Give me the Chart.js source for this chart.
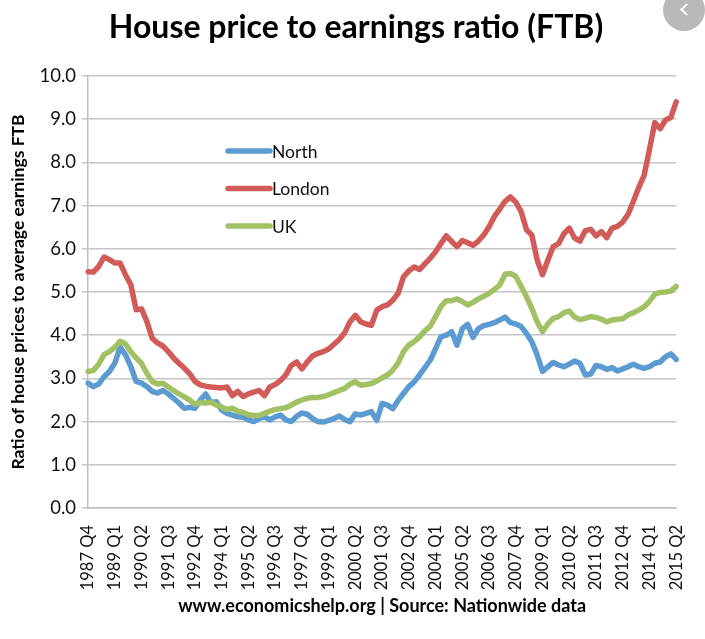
<!DOCTYPE html>
<html>
<head>
<meta charset="utf-8">
<title>House price to earnings ratio (FTB)</title>
<style>
    html, body {
        margin: 0;
        padding: 0;
        background: #fff;
    }

    #wrap {
        position: relative;
        width: 705px;
        height: 639px;
        overflow: hidden;
    }

    /* grey round button in the top right corner of the screenshot */
    .back-btn {
        position: absolute;
        left: 663px;
        top: -11px;
        width: 42px;
        height: 42px;
        border-radius: 50%;
        background: #b9b9b9;
    }

    .back-btn::after {
        content: '';
        position: absolute;
        left: 19px;
        top: 16px;
        width: 7px;
        height: 7px;
        border-left: 2px solid #fff;
        border-bottom: 2px solid #fff;
        transform: rotate(45deg);
    }
</style>
</head>
<body>
<div id="wrap">
    <canvas id="chart"></canvas>
    <div class="back-btn"></div>
</div>
<script src="https://cdn.jsdelivr.net/npm/chart.js@4.4.1/dist/chart.umd.min.js"></script>
<script>
    const quarters = [
        '1987 Q4',
        '1988 Q1', '1988 Q2', '1988 Q3', '1988 Q4',
        '1989 Q1', '1989 Q2', '1989 Q3', '1989 Q4',
        '1990 Q1', '1990 Q2', '1990 Q3', '1990 Q4',
        '1991 Q1', '1991 Q2', '1991 Q3', '1991 Q4',
        '1992 Q1', '1992 Q2', '1992 Q3', '1992 Q4',
        '1993 Q1', '1993 Q2', '1993 Q3', '1993 Q4',
        '1994 Q1', '1994 Q2', '1994 Q3', '1994 Q4',
        '1995 Q1', '1995 Q2', '1995 Q3', '1995 Q4',
        '1996 Q1', '1996 Q2', '1996 Q3', '1996 Q4',
        '1997 Q1', '1997 Q2', '1997 Q3', '1997 Q4',
        '1998 Q1', '1998 Q2', '1998 Q3', '1998 Q4',
        '1999 Q1', '1999 Q2', '1999 Q3', '1999 Q4',
        '2000 Q1', '2000 Q2', '2000 Q3', '2000 Q4',
        '2001 Q1', '2001 Q2', '2001 Q3', '2001 Q4',
        '2002 Q1', '2002 Q2', '2002 Q3', '2002 Q4',
        '2003 Q1', '2003 Q2', '2003 Q3', '2003 Q4',
        '2004 Q1', '2004 Q2', '2004 Q3', '2004 Q4',
        '2005 Q1', '2005 Q2', '2005 Q3', '2005 Q4',
        '2006 Q1', '2006 Q2', '2006 Q3', '2006 Q4',
        '2007 Q1', '2007 Q2', '2007 Q3', '2007 Q4',
        '2008 Q1', '2008 Q2', '2008 Q3', '2008 Q4',
        '2009 Q1', '2009 Q2', '2009 Q3', '2009 Q4',
        '2010 Q1', '2010 Q2', '2010 Q3', '2010 Q4',
        '2011 Q1', '2011 Q2', '2011 Q3', '2011 Q4',
        '2012 Q1', '2012 Q2', '2012 Q3', '2012 Q4',
        '2013 Q1', '2013 Q2', '2013 Q3', '2013 Q4',
        '2014 Q1', '2014 Q2', '2014 Q3', '2014 Q4',
        '2015 Q1', '2015 Q2'
    ];

    // ratios, one per quarter
    const north = [
        2.89, 2.81, 2.87, 3.04, 3.16, 3.35, 3.72, 3.55, 3.28, 2.93,
        2.89, 2.81, 2.70, 2.66, 2.72, 2.64, 2.54, 2.43, 2.31, 2.33,
        2.31, 2.50, 2.64, 2.44, 2.46, 2.27, 2.19, 2.15, 2.11, 2.10,
        2.04, 2.00, 2.07, 2.11, 2.04, 2.11, 2.15, 2.04, 2.00, 2.12,
        2.20, 2.17, 2.07, 2.00, 1.99, 2.03, 2.07, 2.13, 2.05, 2.00,
        2.18, 2.15, 2.19, 2.23, 2.03, 2.42, 2.38, 2.30, 2.49, 2.65,
        2.81, 2.92, 3.08, 3.25, 3.42, 3.69, 3.96, 4.00, 4.08, 3.77,
        4.15, 4.25, 3.95, 4.15, 4.22, 4.25, 4.29, 4.35, 4.42, 4.29,
        4.26, 4.20, 4.04, 3.85, 3.54, 3.16, 3.27, 3.37, 3.31, 3.27,
        3.33, 3.40, 3.35, 3.08, 3.10, 3.30, 3.27, 3.21, 3.25, 3.17,
        3.22, 3.27, 3.33, 3.27, 3.23, 3.27, 3.35, 3.38, 3.50, 3.57,
        3.44
    ];

    const london = [
        5.47, 5.46, 5.59, 5.81, 5.75, 5.67, 5.67, 5.40, 5.17, 4.59,
        4.61, 4.32, 3.93, 3.82, 3.75, 3.62, 3.47, 3.35, 3.24, 3.11,
        2.93, 2.85, 2.82, 2.80, 2.79, 2.78, 2.80, 2.60, 2.70, 2.58,
        2.64, 2.68, 2.72, 2.60, 2.80, 2.86, 2.95, 3.08, 3.30, 3.38,
        3.22, 3.38, 3.52, 3.58, 3.62, 3.68, 3.79, 3.90, 4.06, 4.31,
        4.46, 4.31, 4.26, 4.23, 4.58, 4.66, 4.70, 4.81, 4.97, 5.35,
        5.49, 5.58, 5.52, 5.65, 5.78, 5.93, 6.12, 6.30, 6.17, 6.05,
        6.19, 6.14, 6.08, 6.18, 6.32, 6.51, 6.75, 6.92, 7.10, 7.20,
        7.08, 6.86, 6.44, 6.32, 5.74, 5.40, 5.74, 6.05, 6.12, 6.35,
        6.48, 6.25, 6.18, 6.42, 6.45, 6.30, 6.40, 6.26, 6.48, 6.52,
        6.62, 6.80, 7.10, 7.42, 7.70, 8.30, 8.92, 8.78, 8.98, 9.04,
        9.40
    ];

    const uk = [
        3.16, 3.18, 3.33, 3.55, 3.62, 3.72, 3.86, 3.80, 3.62, 3.47,
        3.35, 3.12, 2.93, 2.87, 2.89, 2.80, 2.72, 2.64, 2.57, 2.50,
        2.40, 2.44, 2.43, 2.45, 2.38, 2.34, 2.28, 2.31, 2.24, 2.21,
        2.16, 2.14, 2.14, 2.19, 2.24, 2.28, 2.30, 2.32, 2.38, 2.45,
        2.50, 2.54, 2.56, 2.56, 2.58, 2.62, 2.67, 2.72, 2.77, 2.87,
        2.92, 2.84, 2.86, 2.88, 2.94, 3.01, 3.08, 3.19, 3.36, 3.62,
        3.77, 3.85, 3.96, 4.10, 4.21, 4.43, 4.66, 4.80, 4.80, 4.84,
        4.78, 4.70, 4.76, 4.84, 4.90, 4.97, 5.06, 5.16, 5.41, 5.43,
        5.36, 5.13, 4.89, 4.62, 4.31, 4.08, 4.26, 4.39, 4.43, 4.52,
        4.56, 4.42, 4.36, 4.39, 4.43, 4.41, 4.37, 4.31, 4.35, 4.37,
        4.38, 4.47, 4.52, 4.58, 4.66, 4.78, 4.95, 4.99, 5.00, 5.02,
        5.13
    ];

    const seriesNames = ['North', 'London', 'UK'];
    const seriesColors = ['#5b9bd1', '#d15b58', '#a2c164'];

    const FONT = 'Lato, "Open Sans", sans-serif';

    // chart title, centred a little right of the page middle as in the original
    const pageTitle = {
        id: 'pageTitle',
        afterDraw(chart, args, opts) {
            const ctx = chart.ctx;
            ctx.save();
            ctx.font = 'bold ' + opts.fontSize + 'px ' + FONT;
            ctx.fillStyle = '#000';
            ctx.textAlign = 'center';
            ctx.textBaseline = 'middle';
            ctx.fillText(opts.text, opts.x, opts.y);
            ctx.restore();
        }
    };

    // legend drawn inside the plot, like the Excel original
    const innerLegend = {
        id: 'innerLegend',
        afterDraw(chart, args, opts) {
            const ctx = chart.ctx;
            ctx.save();
            ctx.font = opts.fontSize + 'px ' + FONT;
            ctx.textBaseline = 'middle';
            ctx.lineCap = 'round';
            seriesNames.forEach((name, i) => {
                const y = opts.top + i * opts.rowGap;
                ctx.strokeStyle = seriesColors[i];
                ctx.lineWidth = 5.5;
                ctx.beginPath();
                ctx.moveTo(opts.left, y);
                ctx.lineTo(opts.left + opts.lineLength, y);
                ctx.stroke();
                ctx.fillStyle = '#111';
                ctx.fillText(name, opts.left + opts.lineLength + 2, y + 1);
            });
            ctx.restore();
        }
    };

    const datasets = [north, london, uk].map((values, i) => ({
        label: seriesNames[i],
        data: values,
        borderColor: seriesColors[i],
        backgroundColor: seriesColors[i],
        borderWidth: 5.5,
        pointRadius: 0,
        tension: 0,
        borderCapStyle: 'round',
        borderJoinStyle: 'round',
        order: 2 - i
    }));

    new Chart(document.getElementById('chart'), {
        type: 'line',
        data: {
            labels: quarters,
            datasets: datasets
        },
        plugins: [pageTitle, innerLegend],
        options: {
            responsive: true,
            maintainAspectRatio: false,
            animation: false,
            layout: {
                padding: { left: 0, right: 21, top: 76, bottom: 0 }
            },
            plugins: {
                legend: { display: false },
                tooltip: { enabled: false },
                title: { display: false },
                pageTitle: {
                    text: 'House price to earnings ratio (FTB)',
                    fontSize: 32,
                    x: 356,
                    y: 28
                },
                innerLegend: {
                    left: 228,
                    top: 151,
                    rowGap: 37.5,
                    lineLength: 42,
                    fontSize: 17.5
                }
            },
            scales: {
                x: {
                    grid: { display: false },
                    border: { display: true, color: '#bdbdbd', width: 1.5 },
                    ticks: {
                        autoSkip: false,
                        minRotation: 90,
                        maxRotation: 90,
                        padding: 9,
                        color: '#111',
                        font: { family: FONT, size: 16.5 },
                        callback: function(value, index) {
                            return index % 5 === 0 ? quarters[index] : null;
                        }
                    },
                    // source line sits under the axis, centred on the plot
                    title: {
                        display: true,
                        text: 'www.economicshelp.org | Source: Nationwide data',
                        color: '#000',
                        font: { family: FONT, size: 18, weight: 'bold' },
                        padding: { top: 0, bottom: 22 }
                    },
                    afterFit: function(scale) {
                        scale.height = 131;
                    }
                },
                y: {
                    min: 0,
                    max: 10,
                    grid: {
                        color: '#c4c4c4',
                        lineWidth: 1.5,
                        tickLength: 6
                    },
                    border: { display: true, color: '#bdbdbd', width: 1.5 },
                    ticks: {
                        stepSize: 1,
                        padding: 6,
                        color: '#111',
                        font: { family: FONT, size: 18.5 },
                        callback: function(value) {
                            return value.toFixed(1);
                        }
                    },
                    title: {
                        display: true,
                        text: 'Ratio of house prices to average earnings FTB',
                        color: '#000',
                        font: { family: FONT, size: 17.5, weight: 'bold' },
                        padding: { top: 8, bottom: 4 }
                    },
                    afterFit: function(scale) {
                        scale.width = 88;
                    }
                }
            }
        }
    });
</script>
</body>
</html>
